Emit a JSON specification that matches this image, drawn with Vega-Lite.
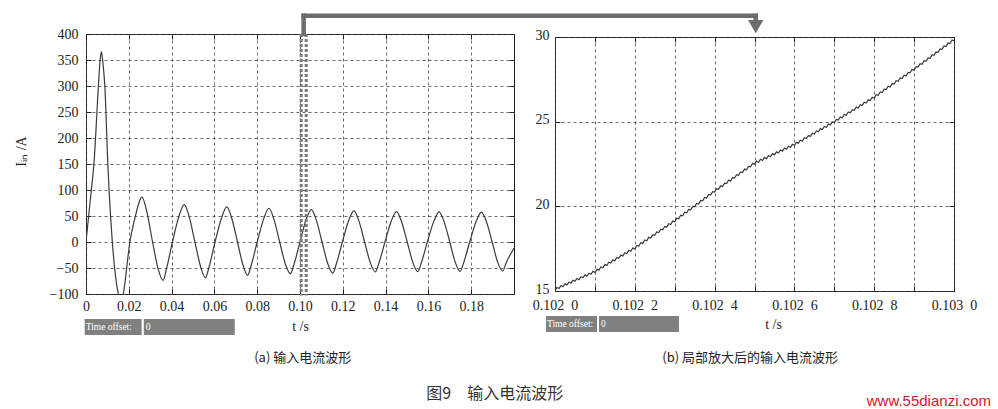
{
  "$schema": "https://vega.github.io/schema/vega-lite/v6.json",
  "background": "white",
  "padding": {"left": 13, "top": 12, "right": 3, "bottom": 2},
  "bounds": "flush",
  "spacing": 41,
  "center": true,
  "datasets": {
    "left": [
      {"t":0,"v":0},{"t":0.0025,"v":100},{"t":0.0037,"v":150},{"t":0.0058,"v":300},{"t":0.0066,"v":350},{"t":0.0072,"v":366},{"t":0.0079,"v":345},{"t":0.0088,"v":300},{"t":0.0102,"v":150},{"t":0.0123,"v":0},{"t":0.0151,"v":-100},{"t":0.0162,"v":-115},{"t":0.0174,"v":-100},{"t":0.0205,"v":0},{"t":0.0231,"v":50},{"t":0.0245,"v":72},{"t":0.0261,"v":86.6},{"t":0.0283,"v":60.6},{"t":0.0311,"v":0},{"t":0.0337,"v":-51.7},{"t":0.036,"v":-73.8},{"t":0.0376,"v":-51.7},{"t":0.0404,"v":0},{"t":0.0435,"v":50.3},{"t":0.0459,"v":71.8},{"t":0.0481,"v":50.3},{"t":0.0509,"v":0},{"t":0.0536,"v":-48.1},{"t":0.0558,"v":-68.7},{"t":0.0575,"v":-48.1},{"t":0.0603,"v":0},{"t":0.0634,"v":47.2},{"t":0.0658,"v":67.4},{"t":0.068,"v":47.2},{"t":0.0708,"v":0},{"t":0.0734,"v":-44.8},{"t":0.0755,"v":-64},{"t":0.0772,"v":-44.8},{"t":0.08,"v":0},{"t":0.0831,"v":45.4},{"t":0.0855,"v":64.9},{"t":0.0877,"v":45.4},{"t":0.0905,"v":0},{"t":0.0932,"v":-42.7},{"t":0.0955,"v":-61},{"t":0.0972,"v":-42.7},{"t":0.1,"v":0},{"t":0.1029,"v":43.6},{"t":0.1053,"v":62.3},{"t":0.1075,"v":43.6},{"t":0.1103,"v":0},{"t":0.113,"v":-41.8},{"t":0.1153,"v":-59.7},{"t":0.117,"v":-41.8},{"t":0.1198,"v":0},{"t":0.1228,"v":42},{"t":0.1252,"v":60},{"t":0.1274,"v":42},{"t":0.1302,"v":0},{"t":0.1329,"v":-40.3},{"t":0.1352,"v":-57.5},{"t":0.1369,"v":-40.3},{"t":0.1397,"v":0},{"t":0.1427,"v":41},{"t":0.1451,"v":58.5},{"t":0.1473,"v":41},{"t":0.1501,"v":0},{"t":0.1528,"v":-39.9},{"t":0.155,"v":-57},{"t":0.1567,"v":-39.9},{"t":0.1595,"v":0},{"t":0.1626,"v":40.6},{"t":0.165,"v":58},{"t":0.1672,"v":40.6},{"t":0.17,"v":0},{"t":0.1726,"v":-39.6},{"t":0.1748,"v":-56.5},{"t":0.1765,"v":-39.6},{"t":0.1793,"v":0},{"t":0.1824,"v":40.3},{"t":0.1848,"v":57.5},{"t":0.187,"v":40.3},{"t":0.1898,"v":0},{"t":0.1924,"v":-39.2},{"t":0.1947,"v":-56},{"t":0.1964,"v":-39.2},{"t":0.2,"v":-12}
    ],
    "right": [
      {"t":0.102,"v":15.04},{"t":0.102005,"v":15.21},{"t":0.10201,"v":15.15},{"t":0.102015,"v":15.32},{"t":0.10202,"v":15.25},{"t":0.102025,"v":15.42},{"t":0.10203,"v":15.36},{"t":0.102035,"v":15.53},{"t":0.10204,"v":15.46},{"t":0.102045,"v":15.63},{"t":0.10205,"v":15.57},{"t":0.102055,"v":15.74},{"t":0.10206,"v":15.67},{"t":0.102065,"v":15.84},{"t":0.10207,"v":15.78},{"t":0.102075,"v":15.95},{"t":0.10208,"v":15.88},{"t":0.102085,"v":16.05},{"t":0.10209,"v":15.99},{"t":0.102095,"v":16.16},
      {"t":0.1021,"v":16.09},{"t":0.102105,"v":16.28},{"t":0.10211,"v":16.23},{"t":0.102115,"v":16.42},{"t":0.10212,"v":16.37},{"t":0.102125,"v":16.56},{"t":0.10213,"v":16.51},{"t":0.102135,"v":16.70},{"t":0.10214,"v":16.65},{"t":0.102145,"v":16.84},{"t":0.10215,"v":16.79},{"t":0.102155,"v":16.98},{"t":0.10216,"v":16.93},{"t":0.102165,"v":17.12},{"t":0.10217,"v":17.07},{"t":0.102175,"v":17.26},{"t":0.10218,"v":17.21},{"t":0.102185,"v":17.40},{"t":0.10219,"v":17.35},{"t":0.102195,"v":17.54},
      {"t":0.1022,"v":17.49},{"t":0.102205,"v":17.69},{"t":0.10221,"v":17.65},{"t":0.102215,"v":17.85},{"t":0.10222,"v":17.81},{"t":0.102225,"v":18.01},{"t":0.10223,"v":17.97},{"t":0.102235,"v":18.17},{"t":0.10224,"v":18.13},{"t":0.102245,"v":18.33},{"t":0.10225,"v":18.29},{"t":0.102255,"v":18.49},{"t":0.10226,"v":18.45},{"t":0.102265,"v":18.65},{"t":0.10227,"v":18.61},{"t":0.102275,"v":18.81},{"t":0.10228,"v":18.77},{"t":0.102285,"v":18.97},{"t":0.10229,"v":18.93},{"t":0.102295,"v":19.13},
      {"t":0.1023,"v":19.09},{"t":0.102305,"v":19.30},{"t":0.10231,"v":19.27},{"t":0.102315,"v":19.47},{"t":0.10232,"v":19.44},{"t":0.102325,"v":19.65},{"t":0.10233,"v":19.62},{"t":0.102335,"v":19.82},{"t":0.10234,"v":19.79},{"t":0.102345,"v":20.00},{"t":0.10235,"v":19.97},{"t":0.102355,"v":20.17},{"t":0.10236,"v":20.14},{"t":0.102365,"v":20.35},{"t":0.10237,"v":20.32},{"t":0.102375,"v":20.52},{"t":0.10238,"v":20.49},{"t":0.102385,"v":20.70},{"t":0.10239,"v":20.67},{"t":0.102395,"v":20.87},
      {"t":0.1024,"v":20.84},{"t":0.102405,"v":21.04},{"t":0.10241,"v":21.01},{"t":0.102415,"v":21.21},{"t":0.10242,"v":21.17},{"t":0.102425,"v":21.37},{"t":0.10243,"v":21.34},{"t":0.102435,"v":21.54},{"t":0.10244,"v":21.50},{"t":0.102445,"v":21.70},{"t":0.10245,"v":21.67},{"t":0.102455,"v":21.87},{"t":0.10246,"v":21.83},{"t":0.102465,"v":22.03},{"t":0.10247,"v":22.00},{"t":0.102475,"v":22.20},{"t":0.10248,"v":22.16},{"t":0.102485,"v":22.36},{"t":0.10249,"v":22.33},{"t":0.102495,"v":22.53},
      {"t":0.1025,"v":22.49},{"t":0.102505,"v":22.67},{"t":0.10251,"v":22.60},{"t":0.102515,"v":22.78},{"t":0.10252,"v":22.71},{"t":0.102525,"v":22.89},{"t":0.10253,"v":22.82},{"t":0.102535,"v":23.00},{"t":0.10254,"v":22.93},{"t":0.102545,"v":23.11},{"t":0.10255,"v":23.04},{"t":0.102555,"v":23.22},{"t":0.10256,"v":23.15},{"t":0.102565,"v":23.33},{"t":0.10257,"v":23.26},{"t":0.102575,"v":23.44},{"t":0.10258,"v":23.37},{"t":0.102585,"v":23.55},{"t":0.10259,"v":23.48},{"t":0.102595,"v":23.66},
      {"t":0.1026,"v":23.59},{"t":0.102605,"v":23.78},{"t":0.10261,"v":23.73},{"t":0.102615,"v":23.91},{"t":0.10262,"v":23.86},{"t":0.102625,"v":24.05},{"t":0.10263,"v":24.00},{"t":0.102635,"v":24.18},{"t":0.10264,"v":24.13},{"t":0.102645,"v":24.32},{"t":0.10265,"v":24.27},{"t":0.102655,"v":24.45},{"t":0.10266,"v":24.40},{"t":0.102665,"v":24.59},{"t":0.10267,"v":24.54},{"t":0.102675,"v":24.72},{"t":0.10268,"v":24.67},{"t":0.102685,"v":24.86},{"t":0.10269,"v":24.81},{"t":0.102695,"v":24.99},
      {"t":0.1027,"v":24.94},{"t":0.102705,"v":25.13},{"t":0.10271,"v":25.09},{"t":0.102715,"v":25.28},{"t":0.10272,"v":25.23},{"t":0.102725,"v":25.42},{"t":0.10273,"v":25.38},{"t":0.102735,"v":25.57},{"t":0.10274,"v":25.52},{"t":0.102745,"v":25.71},{"t":0.10275,"v":25.67},{"t":0.102755,"v":25.86},{"t":0.10276,"v":25.81},{"t":0.102765,"v":26.00},{"t":0.10277,"v":25.96},{"t":0.102775,"v":26.15},{"t":0.10278,"v":26.10},{"t":0.102785,"v":26.29},{"t":0.10279,"v":26.25},{"t":0.102795,"v":26.44},
      {"t":0.1028,"v":26.39},{"t":0.102805,"v":26.59},{"t":0.10281,"v":26.56},{"t":0.102815,"v":26.76},{"t":0.10282,"v":26.72},{"t":0.102825,"v":26.92},{"t":0.10283,"v":26.89},{"t":0.102835,"v":27.09},{"t":0.10284,"v":27.05},{"t":0.102845,"v":27.25},{"t":0.10285,"v":27.22},{"t":0.102855,"v":27.42},{"t":0.10286,"v":27.38},{"t":0.102865,"v":27.58},{"t":0.10287,"v":27.55},{"t":0.102875,"v":27.75},{"t":0.10288,"v":27.71},{"t":0.102885,"v":27.91},{"t":0.10289,"v":27.88},{"t":0.102895,"v":28.08},
      {"t":0.1029,"v":28.04},{"t":0.102905,"v":28.25},{"t":0.10291,"v":28.22},{"t":0.102915,"v":28.42},{"t":0.10292,"v":28.39},{"t":0.102925,"v":28.60},{"t":0.10293,"v":28.57},{"t":0.102935,"v":28.77},{"t":0.10294,"v":28.74},{"t":0.102945,"v":28.95},{"t":0.10295,"v":28.92},{"t":0.102955,"v":29.12},{"t":0.10296,"v":29.09},{"t":0.102965,"v":29.30},{"t":0.10297,"v":29.27},{"t":0.102975,"v":29.47},{"t":0.10298,"v":29.44},{"t":0.102985,"v":29.65},{"t":0.10299,"v":29.62},{"t":0.102995,"v":29.82},
      {"t":0.103,"v":29.79}
    ]
  },
  "hconcat": [
    {
      "width": 428,
      "height": 260,
      "data": {"name": "left"},
      "resolve": {"axis": {"x": "independent", "y": "independent"}},
      "layer": [
        {
          "mark": {"type": "line", "clip": true, "interpolate": "monotone", "color": "#3a3a3a", "strokeWidth": 1.2},
          "encoding": {
            "x": {"field": "t", "type": "quantitative", "scale": {"domain": [0, 0.2], "nice": false, "zero": false},
              "axis": {"orient": "bottom", "values": [0, 0.02, 0.04, 0.06, 0.08, 0.1, 0.12, 0.14, 0.16, 0.18], "labelExpr": "datum.value == 0 ? '0' : format(datum.value, '.2f')", "labelPadding": 10, "title": "t /s", "titlePadding": 6}},
            "y": {"field": "v", "type": "quantitative", "scale": {"domain": [-100, 400], "nice": false, "zero": false},
              "axis": {"orient": "left", "values": [-100, -50, 0, 50, 100, 150, 200, 250, 300, 350, 400], "labelPadding": 13, "title": "Iᵢₙ /A", "titleAngle": -90, "titleX": -65, "titleY": 117, "titleBaseline": "middle", "titleAlign": "center"}}
          }
        },
        {
          "mark": {"type": "line", "opacity": 0},
          "encoding": {
            "x": {"field": "t", "type": "quantitative", "scale": {"domain": [0, 0.2], "nice": false, "zero": false},
              "axis": {"orient": "top", "values": [0, 0.02, 0.04, 0.06, 0.08, 0.1, 0.12, 0.14, 0.16, 0.18], "labels": false, "grid": false, "title": null}},
            "y": {"field": "v", "type": "quantitative", "scale": {"domain": [-100, 400], "nice": false, "zero": false},
              "axis": {"orient": "right", "values": [-100, -50, 0, 50, 100, 150, 200, 250, 300, 350, 400], "labels": false, "grid": false, "title": null}}
          }
        },
        {
          "data": {"values": [{}]},
          "mark": {"type": "rule", "clip": false, "color": "#7a7a7a", "strokeWidth": 3, "strokeDash": [3, 2]},
          "encoding": {
            "x": {"datum": 0.10056, "type": "quantitative", "scale": {"domain": [0, 0.2], "nice": false, "zero": false}, "axis": null},
            "y": {"datum": 400, "type": "quantitative", "scale": {"domain": [-100, 400], "nice": false, "zero": false}, "axis": null},
            "y2": {"datum": -103}
          }
        },
        {
          "data": {"values": [{}]},
          "mark": {"type": "rule", "clip": false, "color": "#7a7a7a", "strokeWidth": 3, "strokeDash": [3, 2]},
          "encoding": {
            "x": {"datum": 0.1029, "type": "quantitative", "scale": {"domain": [0, 0.2], "nice": false, "zero": false}, "axis": null},
            "y": {"datum": 400, "type": "quantitative", "scale": {"domain": [-100, 400], "nice": false, "zero": false}, "axis": null},
            "y2": {"datum": -103}
          }
        },
        {
          "data": {"values": [{}]},
          "mark": {"type": "rule", "clip": false, "color": "#6d6d6d", "strokeWidth": 4.5, "strokeCap": "square"},
          "encoding": {
            "x": {"datum": 0.1017, "type": "quantitative", "scale": {"domain": [0, 0.2], "nice": false, "zero": false}, "axis": null},
            "y": {"datum": 400, "type": "quantitative", "scale": {"domain": [-100, 400], "nice": false, "zero": false}, "axis": null},
            "y2": {"datum": 435}
          }
        },
        {
          "data": {"values": [{}]},
          "mark": {"type": "rule", "clip": false, "color": "#6d6d6d", "strokeWidth": 4.5, "strokeCap": "square"},
          "encoding": {
            "x": {"datum": 0.1017, "type": "quantitative", "scale": {"domain": [0, 0.2], "nice": false, "zero": false}, "axis": null},
            "x2": {"datum": 0.31294},
            "y": {"datum": 435, "type": "quantitative", "scale": {"domain": [-100, 400], "nice": false, "zero": false}, "axis": null}
          }
        },
        {
          "data": {"values": [{}]},
          "mark": {"type": "rule", "clip": false, "color": "#6d6d6d", "strokeWidth": 4.5, "strokeCap": "square"},
          "encoding": {
            "x": {"datum": 0.31294, "type": "quantitative", "scale": {"domain": [0, 0.2], "nice": false, "zero": false}, "axis": null},
            "y": {"datum": 435, "type": "quantitative", "scale": {"domain": [-100, 400], "nice": false, "zero": false}, "axis": null},
            "y2": {"datum": 416}
          }
        },
        {
          "data": {"values": [{}]},
          "mark": {"type": "point", "clip": false, "shape": "triangle-down", "filled": true, "color": "#6d6d6d", "opacity": 1, "size": 237},
          "encoding": {
            "x": {"datum": 0.31294, "type": "quantitative", "scale": {"domain": [0, 0.2], "nice": false, "zero": false}, "axis": null},
            "y": {"datum": 414.2, "type": "quantitative", "scale": {"domain": [-100, 400], "nice": false, "zero": false}, "axis": null}
          }
        },
        {
          "data": {"values": [{}]},
          "mark": {"type": "rect", "clip": false, "color": "#808080"},
          "encoding": {
            "x": {"datum": -0.0006, "type": "quantitative", "scale": {"domain": [0, 0.2], "nice": false, "zero": false}, "axis": null},
            "x2": {"datum": 0.026},
            "y": {"datum": -148, "type": "quantitative", "scale": {"domain": [-100, 400], "nice": false, "zero": false}, "axis": null},
            "y2": {"datum": -179}
          }
        },
        {
          "data": {"values": [{}]},
          "mark": {"type": "rect", "clip": false, "color": "#808080"},
          "encoding": {
            "x": {"datum": 0.027, "type": "quantitative", "scale": {"domain": [0, 0.2], "nice": false, "zero": false}, "axis": null},
            "x2": {"datum": 0.0695},
            "y": {"datum": -148, "type": "quantitative", "scale": {"domain": [-100, 400], "nice": false, "zero": false}, "axis": null},
            "y2": {"datum": -179}
          }
        },
        {
          "data": {"values": [{}]},
          "mark": {"type": "text", "clip": false, "text": "Time offset:", "align": "left", "baseline": "middle", "dx": 1, "font": "Liberation Sans Narrow", "fontSize": 9.5, "color": "white"},
          "encoding": {
            "x": {"datum": -0.0006, "type": "quantitative", "scale": {"domain": [0, 0.2], "nice": false, "zero": false}, "axis": null},
            "y": {"datum": -163.5, "type": "quantitative", "scale": {"domain": [-100, 400], "nice": false, "zero": false}, "axis": null}
          }
        },
        {
          "data": {"values": [{}]},
          "mark": {"type": "text", "clip": false, "text": "0", "align": "left", "baseline": "middle", "dx": 2, "font": "Liberation Sans Narrow", "fontSize": 9.5, "color": "white"},
          "encoding": {
            "x": {"datum": 0.027, "type": "quantitative", "scale": {"domain": [0, 0.2], "nice": false, "zero": false}, "axis": null},
            "y": {"datum": -163.5, "type": "quantitative", "scale": {"domain": [-100, 400], "nice": false, "zero": false}, "axis": null}
          }
        },
        {
          "data": {"values": [{}]},
          "mark": {"type": "text", "clip": false, "text": "(a) 输入电流波形", "align": "center", "baseline": "middle", "font": "Noto Sans CJK SC", "fontSize": 13, "color": "#222222"},
          "encoding": {
            "x": {"datum": 0.10126, "type": "quantitative", "scale": {"domain": [0, 0.2], "nice": false, "zero": false}, "axis": null},
            "y": {"datum": -222.5, "type": "quantitative", "scale": {"domain": [-100, 400], "nice": false, "zero": false}, "axis": null}
          }
        },
        {
          "data": {"values": [{}]},
          "mark": {"type": "text", "clip": false, "text": "图9\u3000输入电流波形", "align": "center", "baseline": "middle", "font": "Noto Sans CJK SC", "fontSize": 16, "color": "#333333"},
          "encoding": {
            "x": {"datum": 0.19098, "type": "quantitative", "scale": {"domain": [0, 0.2], "nice": false, "zero": false}, "axis": null},
            "y": {"datum": -291.7, "type": "quantitative", "scale": {"domain": [-100, 400], "nice": false, "zero": false}, "axis": null}
          }
        }
      ]
    },
    {
      "width": 399,
      "height": 254,
      "data": {"name": "right"},
      "resolve": {"axis": {"x": "independent", "y": "independent"}},
      "layer": [
        {
          "mark": {"type": "line", "clip": true, "color": "#3a3a3a", "strokeWidth": 1.2},
          "encoding": {
            "x": {"field": "t", "type": "quantitative", "scale": {"domain": [0.102, 0.103], "nice": false, "zero": false},
              "axis": {"orient": "bottom", "values": [0.102, 0.1021, 0.1022, 0.1023, 0.1024, 0.1025, 0.1026, 0.1027, 0.1028, 0.1029, 0.103], "labelExpr": "round(datum.value * 10000) % 2 == 0 ? slice(format(datum.value, '.4f'), 0, 5) + '\u2002' + slice(format(datum.value, '.4f'), 5) : ''", "labelPadding": 12, "labelOverlap": false, "title": "t /s", "titlePadding": 5, "titleX": 218}},
            "y": {"field": "v", "type": "quantitative", "scale": {"domain": [15, 30], "nice": false, "zero": false},
              "axis": {"orient": "left", "values": [15, 20, 25, 30], "labelPadding": 11, "labelOffset": -2, "title": null}}
          }
        },
        {
          "mark": {"type": "line", "opacity": 0},
          "encoding": {
            "x": {"field": "t", "type": "quantitative", "scale": {"domain": [0.102, 0.103], "nice": false, "zero": false},
              "axis": {"orient": "top", "values": [0.102, 0.1021, 0.1022, 0.1023, 0.1024, 0.1025, 0.1026, 0.1027, 0.1028, 0.1029, 0.103], "labels": false, "grid": false, "title": null}},
            "y": {"field": "v", "type": "quantitative", "scale": {"domain": [15, 30], "nice": false, "zero": false},
              "axis": {"orient": "right", "values": [15, 20, 25, 30], "labels": false, "grid": false, "title": null}}
          }
        },
        {
          "data": {"values": [{}]},
          "mark": {"type": "rect", "clip": false, "color": "#808080"},
          "encoding": {
            "x": {"datum": 0.1019774, "type": "quantitative", "scale": {"domain": [0.102, 0.103], "nice": false, "zero": false}, "axis": null},
            "x2": {"datum": 0.1021053},
            "y": {"datum": 13.52, "type": "quantitative", "scale": {"domain": [15, 30], "nice": false, "zero": false}, "axis": null},
            "y2": {"datum": 12.58}
          }
        },
        {
          "data": {"values": [{}]},
          "mark": {"type": "rect", "clip": false, "color": "#808080"},
          "encoding": {
            "x": {"datum": 0.1021103, "type": "quantitative", "scale": {"domain": [0.102, 0.103], "nice": false, "zero": false}, "axis": null},
            "x2": {"datum": 0.1023108},
            "y": {"datum": 13.52, "type": "quantitative", "scale": {"domain": [15, 30], "nice": false, "zero": false}, "axis": null},
            "y2": {"datum": 12.58}
          }
        },
        {
          "data": {"values": [{}]},
          "mark": {"type": "text", "clip": false, "text": "Time offset:", "align": "left", "baseline": "middle", "dx": 1, "font": "Liberation Sans Narrow", "fontSize": 9.5, "color": "white"},
          "encoding": {
            "x": {"datum": 0.1019774, "type": "quantitative", "scale": {"domain": [0.102, 0.103], "nice": false, "zero": false}, "axis": null},
            "y": {"datum": 13.05, "type": "quantitative", "scale": {"domain": [15, 30], "nice": false, "zero": false}, "axis": null}
          }
        },
        {
          "data": {"values": [{}]},
          "mark": {"type": "text", "clip": false, "text": "0", "align": "left", "baseline": "middle", "dx": 2, "font": "Liberation Sans Narrow", "fontSize": 9.5, "color": "white"},
          "encoding": {
            "x": {"datum": 0.1021103, "type": "quantitative", "scale": {"domain": [0.102, 0.103], "nice": false, "zero": false}, "axis": null},
            "y": {"datum": 13.05, "type": "quantitative", "scale": {"domain": [15, 30], "nice": false, "zero": false}, "axis": null}
          }
        },
        {
          "data": {"values": [{}]},
          "mark": {"type": "text", "clip": false, "text": "(b) 局部放大后的输入电流波形", "align": "center", "baseline": "middle", "font": "Noto Sans CJK SC", "fontSize": 13, "color": "#222222"},
          "encoding": {
            "x": {"datum": 0.102489, "type": "quantitative", "scale": {"domain": [0.102, 0.103], "nice": false, "zero": false}, "axis": null},
            "y": {"datum": 11.04, "type": "quantitative", "scale": {"domain": [15, 30], "nice": false, "zero": false}, "axis": null}
          }
        },
        {
          "data": {"values": [{}]},
          "mark": {"type": "text", "clip": false, "text": "www.55dianzi.com", "align": "center", "baseline": "middle", "font": "Liberation Sans", "fontSize": 15, "color": "#cc2030"},
          "encoding": {
            "x": {"datum": 0.102937, "type": "quantitative", "scale": {"domain": [0.102, 0.103], "nice": false, "zero": false}, "axis": null},
            "y": {"datum": 8.5, "type": "quantitative", "scale": {"domain": [15, 30], "nice": false, "zero": false}, "axis": null}
          }
        }
      ]
    }
  ],
  "config": {
    "view": {"stroke": "#1e1e1e", "strokeWidth": 1},
    "axis": {
      "labelFont": "Liberation Serif", "labelFontSize": 14, "labelColor": "#222222", "labelFlush": false,
      "titleFont": "Liberation Serif", "titleFontSize": 14, "titleFontWeight": "normal", "titleColor": "#222222",
      "domain": false, "grid": true, "gridDash": [3, 3], "gridColor": "#444444", "gridWidth": 0.8, "gridOpacity": 1,
      "ticks": true, "tickColor": "#222222", "tickSize": -5, "tickWidth": 1
    }
  }
}
